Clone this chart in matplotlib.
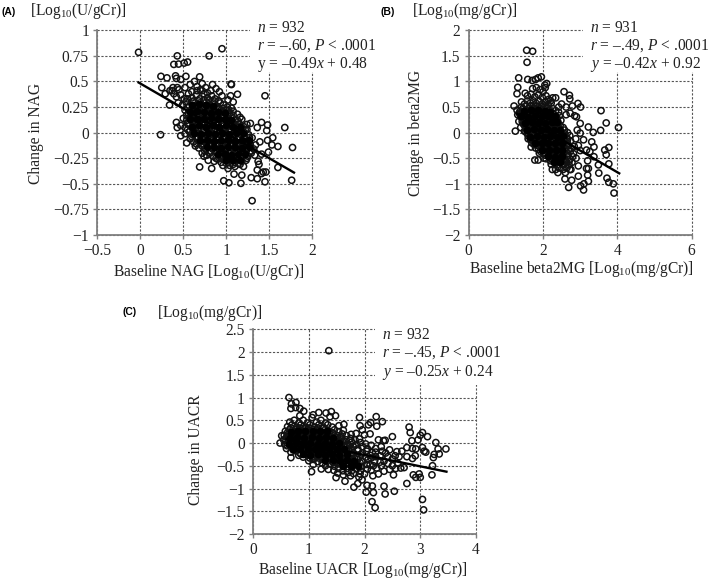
import matplotlib
matplotlib.use("Agg")
import matplotlib.pyplot as plt
from matplotlib.patches import Rectangle

plt.rcParams['font.family'] = ['Liberation Serif', 'DejaVu Serif']
plt.rcParams['mathtext.fontset'] = 'custom'
plt.rcParams['mathtext.rm'] = 'Liberation Serif'
plt.rcParams['mathtext.it'] = 'Liberation Serif:italic'

W, H = 709, 582

# points, the outliers first and then the dense cloud row by row
nag_points = [
    (-.02, .785), (.43, .75), (.80, .75), (.95, .82), (.39, .667), (.445, .67), (.51, .68), (.55, .69),
    (.24, .55), (.31, .535), (.41, .555), (.42, .53), (.53, .55), (.69, .545), (1.055, .475), (1.06, .47),
    (.25, .44), (.345, .41), (1.45, .36), (1.13, .375), (.235, -.02), (1.68, .05), (1.77, -.145), (1.76, -.465),
    (1.30, -.665), (.69, -.335), (.83, -.35), (.97, -.47), (1.03, -.49), (1.17, -.495), (1.18, -.415), (1.09, -.405),
    (1.29, -.44), (1.36, -.45), (1.45, -.48), (1.43, -.385), (1.46, -.385), (1.36, -.365), (1.6, -.34), (1.6, -.135),
    (1.54, -.05), (1.48, -.075), (1.53, -.12), (1.48, .075), (1.47, .02), (1.36, .05), (1.41, .10), (1.49, -.19),
    (1.41, -.21), (.84, .47), (.88, .43), (.92, .40), (.95, .36), (1.02, .32), (1.05, .36), (1.08, .30),
    (.63, .50), (.72, .48), (.47, .52), (.37, .41), (.39, .38), (.34, .27), (.29, .38), (.43, .44),
    (1.37, -.28), (1.33, -.22), (1.38, -.31), (1.41, -.40), (1.34, -.12), (1.39, -.09), (1.28, .09), (1.24, .08),
    (.43, .05), (.42, .10), (.47, -.03), (.54, -.10), (.74, -.23), (.79, -.27), (1.02, -.35), (1.2, -.33),
    (.38, .44), (.45, .42), (.52, .44), (.58, .47), (.66, .45), (.70, .42), (.76, .44), (.82, .41),
    (.42, .35), (.47, .37), (.51, .33), (.56, .38), (.60, .34), (.65, .37), (.69, .33), (.74, .38), (.78, .34), (.83, .36), (.87, .33), (.91, .31),
    (.44, .29), (.49, .27), (.53, .30), (.57, .26), (.61, .30), (.65, .27), (.69, .29), (.73, .26), (.77, .30), (.81, .27), (.85, .29), (.89, .26), (.93, .29), (.97, .27), (1.01, .25), (1.06, .24),
    (.52, .22), (.56, .19), (.60, .23), (.64, .20), (.68, .22), (.72, .19), (.76, .23), (.80, .20), (.84, .22), (.88, .19), (.92, .23), (.96, .20), (1.00, .22), (1.04, .19), (1.08, .21), (1.13, .18), (1.16, .15),
    (.50, .14), (.54, .12), (.58, .15), (.62, .12), (.66, .15), (.70, .12), (.74, .15), (.78, .12), (.82, .15), (.86, .12), (.90, .15), (.94, .12), (.98, .15), (1.02, .12), (1.06, .14), (1.10, .12), (1.14, .11), (1.18, .13),
    (.47, .07), (.52, .05), (.56, .08), (.60, .05), (.64, .08), (.68, .05), (.72, .08), (.76, .05), (.80, .08), (.84, .05), (.88, .08), (.92, .05), (.96, .08), (1.00, .05), (1.04, .08), (1.08, .05), (1.12, .07), (1.16, .04), (1.20, .06), (1.24, .03),
    (.52, -.01), (.57, .01), (.61, -.02), (.65, .01), (.69, -.02), (.73, .01), (.77, -.02), (.81, .01), (.85, -.02), (.89, .01), (.93, -.02), (.97, .01), (1.01, -.02), (1.05, .01), (1.09, -.02), (1.13, .01), (1.17, -.02), (1.21, .00), (1.26, -.02),
    (.58, -.06), (.62, -.09), (.66, -.06), (.70, -.09), (.74, -.06), (.78, -.09), (.82, -.06), (.86, -.09), (.90, -.06), (.94, -.09), (.98, -.06), (1.02, -.09), (1.06, -.06), (1.10, -.09), (1.14, -.06), (1.18, -.09), (1.22, -.06), (1.26, -.09), (1.30, -.05),
    (.64, -.13), (.68, -.15), (.72, -.13), (.76, -.16), (.80, -.13), (.84, -.16), (.88, -.13), (.92, -.16), (.96, -.13), (1.00, -.16), (1.04, -.13), (1.08, -.16), (1.12, -.13), (1.16, -.16), (1.20, -.13), (1.24, -.16), (1.28, -.12), (1.32, -.16),
    (.72, -.20), (.77, -.22), (.81, -.20), (.85, -.23), (.89, -.20), (.93, -.23), (.97, -.20), (1.01, -.23), (1.05, -.20), (1.09, -.23), (1.13, -.20), (1.17, -.23), (1.21, -.20), (1.25, -.23), (1.29, -.20),
    (.86, -.28), (.90, -.26), (.94, -.29), (.98, -.26), (1.02, -.29), (1.06, -.26), (1.10, -.29), (1.14, -.26), (1.18, -.28), (1.23, -.27), (.96, -.32), (1.04, -.32), (1.10, -.33), (1.16, -.31),
    (.60, .40), (.66, .41), (.72, .41), (.78, .39), (.55, .33), (.62, .31), (.68, .31), (.74, .32), (.80, .32), (.86, .31),
    (.55, .245), (.61, .26), (.67, .25), (.73, .23), (.79, .25), (.85, .25), (.91, .24), (.97, .235), (1.03, .22),
    (.54, .17), (.60, .19), (.66, .18), (.72, .16), (.78, .17), (.84, .18), (.90, .17), (.96, .17), (1.02, .16), (1.08, .17),
    (.55, .09), (.61, .10), (.67, .09), (.73, .11), (.79, .10), (.85, .09), (.91, .10), (.97, .09), (1.03, .10), (1.09, .09), (1.15, .08),
    (.55, .03), (.62, .03), (.68, .02), (.74, .03), (.80, .03), (.86, .02), (.92, .03), (.98, .02), (1.04, .03), (1.10, .02), (1.16, .02), (1.22, .03),
    (.60, -.04), (.67, -.04), (.73, -.04), (.79, -.04), (.85, -.05), (.91, -.04), (.97, -.04), (1.03, -.05), (1.09, -.04), (1.15, -.04), (1.21, -.03), (1.27, -.05),
    (.65, -.11), (.71, -.11), (.77, -.11), (.83, -.12), (.89, -.11), (.95, -.11), (1.01, -.12), (1.07, -.11), (1.13, -.11), (1.19, -.11), (1.25, -.12),
    (.75, -.18), (.81, -.18), (.87, -.18), (.93, -.19), (.99, -.18), (1.05, -.18), (1.11, -.18), (1.17, -.19), (1.23, -.18), (1.29, -.18),
    (.88, -.25), (.94, -.25), (1.00, -.25), (1.06, -.24), (1.12, -.25), (1.18, -.25), (1.24, -.25), (1.00, -.30), (1.08, -.31), (1.14, -.30),
]
# heart of the cloud, where the overlapping rings print solid black
nag_dense = [
    (.60, .27), (.68, .28), (.76, .27), (.84, .26),
    (.58, .20), (.66, .21), (.74, .20), (.82, .19), (.90, .20), (.98, .19),
    (.58, .13), (.66, .13), (.74, .13), (.82, .14), (.90, .13), (.98, .13), (1.06, .12),
    (.60, .06), (.68, .07), (.76, .06), (.84, .07), (.92, .06), (1.00, .07), (1.08, .06), (1.16, .06),
    (.63, .00), (.71, -.01), (.79, .00), (.87, -.01), (.95, .00), (1.03, -.01), (1.11, .00), (1.19, .00),
    (.70, -.07), (.78, -.07), (.86, -.08), (.94, -.07), (1.02, -.07), (1.10, -.08), (1.18, -.07), (1.26, -.07),
    (.78, -.14), (.86, -.14), (.94, -.15), (1.02, -.14), (1.10, -.14), (1.18, -.15), (1.26, -.14),
    (.90, -.21), (.98, -.21), (1.06, -.22), (1.14, -.21), (1.22, -.21),
    (1.00, -.27), (1.08, -.27), (1.16, -.27),
]
nag_fit_x = [-.02, 1.787]
nag_fit_y = [.49, -.39]

beta_points = [
    (1.56, 1.61), (1.72, 1.59), (1.57, 1.375), (1.345, 1.07), (1.59, 1.04), (1.71, 1.02), (1.80, 1.04), (1.87, 1.07),
    (1.955, 1.09), (2.1, .96), (2.05, .93), (1.32, .885), (1.30, .76), (1.52, .77), (1.22, .52), (1.255, .03),
    (2.565, .80), (2.71, .73), (2.72, .66), (2.5, .56), (2.79, .52), (2.94, .57), (3.01, .5), (2.34, .68),
    (2.26, .68), (3.56, .43), (3.70, .19), (4.03, .10), (3.55, .045), (3.35, .005), (3.22, .11), (3.77, -.29),
    (3.66, -.34), (3.70, -.43), (3.77, -.61), (3.49, -.63), (3.5, -.79), (3.72, -.89), (3.77, -.97), (3.89, -1.0),
    (3.91, -1.18), (2.69, -1.07), (2.77, -.93), (2.59, -.905), (3.01, -1.04), (3.09, -1.12), (3.10, -1.0), (3.22, -.95),
    (3.20, -.83), (3.17, -.70), (3.22, -.70), (2.95, -.85), (1.78, -.535), (1.87, -.535), (3.09, -.14), (3.31, -.18),
    (3.37, -.28), (3.26, -.37), (3.17, -.34), (3.37, -.47), (2.89, -.5), (3.0, -.01), (3.0, .18), (2.9, .31),
    (2.73, .38), (2.85, .33), (2.62, .35), (2.62, .50), (2.42, .50), (2.2, .62), (2.06, .88), (1.42, .60), (1.47, .17), (1.35, .22),
    (1.40, .10), (1.5, .03), (1.6, -.12), (1.68, -.28), (1.9, -.40), (2.02, -.5), (2.25, -.72), (2.4, -.78), (2.6, -.78), (2.75, -.72),
    (2.95, -.65), (3.0, -.35), (2.95, -.25), (3.2, -.55), (2.88, -.12), (2.92, .05),
    (1.72, .86), (1.82, .88), (1.92, .84), (2.0, .80), (1.58, .72), (1.68, .75), (1.78, .70), (1.88, .74), (1.98, .69), (2.08, .72), (2.15, .65),
    (1.42, .50), (1.50, .56), (1.58, .62), (1.66, .58), (1.74, .62), (1.82, .57), (1.90, .61), (1.98, .56), (2.06, .60), (2.14, .55), (2.22, .58),
    (1.30, .44), (1.38, .42), (1.46, .47), (1.54, .43), (1.62, .47), (1.70, .43), (1.78, .47), (1.86, .43), (1.94, .47), (2.02, .43), (2.10, .47), (2.18, .43), (2.26, .47), (2.34, .43), (2.42, .40),
    (1.32, .35), (1.40, .31), (1.48, .36), (1.56, .31), (1.64, .36), (1.72, .31), (1.80, .36), (1.88, .31), (1.96, .36), (2.04, .31), (2.12, .36), (2.20, .31), (2.28, .36), (2.36, .31), (2.44, .33),
    (1.44, .22), (1.52, .26), (1.60, .21), (1.68, .26), (1.76, .21), (1.84, .26), (1.92, .21), (2.00, .26), (2.08, .21), (2.16, .26), (2.24, .21), (2.32, .26), (2.40, .21), (2.48, .24),
    (1.50, .14), (1.58, .10), (1.66, .15), (1.74, .10), (1.82, .15), (1.90, .10), (1.98, .15), (2.06, .10), (2.14, .15), (2.22, .10), (2.30, .15), (2.38, .10), (2.46, .14), (2.54, .10),
    (1.54, .01), (1.62, .05), (1.70, .00), (1.78, .05), (1.86, .00), (1.94, .05), (2.02, .00), (2.10, .05), (2.18, .00), (2.26, .05), (2.34, .00), (2.42, .05), (2.50, .00), (2.58, .05), (2.66, .00),
    (1.60, -.06), (1.68, -.10), (1.76, -.05), (1.84, -.10), (1.92, -.05), (2.00, -.10), (2.08, -.05), (2.16, -.10), (2.24, -.05), (2.32, -.10), (2.40, -.05), (2.48, -.10), (2.56, -.05), (2.64, -.10), (2.72, -.06),
    (1.70, -.20), (1.78, -.16), (1.86, -.21), (1.94, -.16), (2.02, -.21), (2.10, -.16), (2.18, -.21), (2.26, -.16), (2.34, -.21), (2.42, -.16), (2.50, -.21), (2.58, -.16), (2.66, -.21), (2.74, -.16),
    (1.80, -.30), (1.88, -.26), (1.96, -.31), (2.04, -.26), (2.12, -.31), (2.20, -.26), (2.28, -.31), (2.36, -.26), (2.44, -.31), (2.52, -.26), (2.60, -.31), (2.68, -.26), (2.76, -.31), (2.84, -.27),
    (1.94, -.37), (2.02, -.41), (2.10, -.36), (2.18, -.41), (2.26, -.36), (2.34, -.41), (2.42, -.36), (2.50, -.41), (2.58, -.36), (2.66, -.41), (2.74, -.36), (2.82, -.41),
    (2.08, -.51), (2.16, -.47), (2.24, -.52), (2.32, -.47), (2.40, -.52), (2.48, -.47), (2.56, -.52), (2.64, -.47), (2.72, -.52), (2.80, -.47),
    (2.22, -.62), (2.30, -.58), (2.38, -.63), (2.46, -.58), (2.54, -.63), (2.62, -.58), (2.70, -.63), (2.78, -.58), (2.34, -.72), (2.44, -.69), (2.54, -.72), (2.64, -.69), (2.72, -.72),
    (1.55, .52), (1.65, .52), (1.75, .54), (1.85, .52), (1.95, .52), (2.05, .52), (1.36, .38), (1.46, .40), (1.56, .38), (1.66, .40), (1.76, .40), (1.86, .38), (1.96, .40), (2.06, .38), (2.16, .40), (2.26, .38),
    (1.44, .28), (1.54, .28), (1.64, .30), (1.74, .26), (1.84, .29), (1.94, .28), (2.04, .26), (2.14, .29), (2.24, .28),
    (1.48, .18), (1.58, .16), (1.68, .19), (1.78, .17), (1.88, .18), (1.98, .19), (2.08, .17), (2.18, .18), (2.28, .18), (2.38, .16),
    (1.54, .08), (1.64, .07), (1.74, .07), (1.84, .08), (1.94, .07), (2.04, .08), (2.14, .07), (2.24, .08), (2.34, .07), (2.44, .08),
    (1.58, -.02), (1.68, -.03), (1.78, -.02), (1.88, -.03), (1.98, -.02), (2.08, -.03), (2.18, -.02), (2.28, -.03), (2.38, -.02), (2.48, -.03), (2.58, -.02),
    (1.66, -.13), (1.76, -.12), (1.86, -.13), (1.96, -.12), (2.06, -.13), (2.16, -.12), (2.26, -.13), (2.36, -.12), (2.46, -.13), (2.56, -.12), (2.66, -.13),
    (1.76, -.23), (1.86, -.24), (1.96, -.23), (2.06, -.24), (2.16, -.23), (2.26, -.24), (2.36, -.23), (2.46, -.24), (2.56, -.23), (2.66, -.24),
    (1.88, -.33), (1.98, -.34), (2.08, -.33), (2.18, -.34), (2.28, -.33), (2.38, -.34), (2.48, -.33), (2.58, -.34), (2.68, -.33),
    (2.06, -.44), (2.16, -.44), (2.26, -.44), (2.36, -.45), (2.46, -.44), (2.56, -.44), (2.66, -.45),
    (2.20, -.55), (2.30, -.54), (2.40, -.55), (2.50, -.54), (2.60, -.55), (2.70, -.56),
]
beta_dense = [
    (1.50, .42), (1.68, .44), (1.86, .45), (2.04, .42), (2.20, .40),
    (1.42, .33), (1.60, .30), (1.78, .32), (1.96, .33), (2.14, .32), (2.32, .32),
    (1.52, .19), (1.70, .21), (1.88, .20), (2.06, .19), (2.24, .20), (2.38, .20),
    (1.58, .06), (1.76, .07), (1.94, .06), (2.12, .07), (2.30, .06), (2.46, .06),
    (1.66, -.08), (1.84, -.07), (2.02, -.08), (2.20, -.07), (2.38, -.08), (2.54, -.07),
    (1.78, -.21), (1.96, -.20), (2.14, -.21), (2.32, -.20), (2.50, -.21),
    (1.98, -.33), (2.16, -.34), (2.34, -.33), (2.52, -.34),
    (2.14, -.46), (2.32, -.47), (2.50, -.46),
    (2.30, -.58), (2.46, -.58),
]
beta_fit_x = [1.3, 4.05]
beta_fit_y = [.37, -.795]

uacr_points = [
    (1.36, 2.03), (.645, 1.0), (.77, .89), (.69, .86), (.84, .76), (.91, .70), (.68, .76), (.765, .78), (.84, .60),
    (1.18, .67), (1.31, .66), (1.405, .69), (1.38, .58), (1.48, .6), (1.91, .56), (2.21, .58), (2.32, .47), (2.11, .45),
    (2.22, .37), (1.92, .38), (1.96, .29), (2.07, .4), (2.80, .35), (2.82, .23), (2.85, .05), (3.04, .23), (3.0, .17),
    (3.13, .14), (3.28, .01), (2.96, .07), (3.04, -.10), (3.07, -.18), (3.10, -.2), (3.46, -.13), (3.32, -.13), (3.34, -.24),
    (3.25, -.25), (3.235, -.32), (3.22, -.5), (3.21, -.70), (2.92, -.13), (2.86, -.12), (2.76, -.1), (2.67, -.18), (2.58, -.19),
    (2.5, .14), (2.34, .05), (2.25, .07), (2.37, .06), (2.91, -.28), (2.86, -.34), (2.76, -.3), (2.71, -.54), (2.56, -.56), (2.52, -.7),
    (2.875, -.70), (2.92, -.755), (2.98, -.68), (3.0, -.755), (2.76, -.89), (2.35, -.95), (2.37, -1.12), (2.535, -1.06),
    (1.81, -.97), (1.88, -.89), (1.955, -.81), (2.045, -.93), (2.14, -.945), (2.03, -1.08), (2.16, -1.09), (2.135, -1.29),
    (2.19, -1.42), (3.04, -1.24), (3.06, -1.47), (.485, 0), (.515, .16), (.68, -.32), (1.05, -.63), (1.65, -.84),
    (1.49, -.76), (1.225, -.57), (2.0, .18), (2.1, .2), (1.85, .21), (2.2, -.12), (2.3, -.08), (2.42, -.3), (2.5, -.35), (2.6, -.45),
    (2.45, -.58), (2.35, -.62), (2.25, -.68), (2.15, -.72), (2.0, -.68), (1.9, -.75), (1.75, -.72), (2.45, -.15), (2.55, -.28),
    (.66, .46), (.74, .50), (.82, .44), (.90, .50), (.98, .44), (1.06, .56), (1.14, .46), (1.22, .50), (1.30, .44), (1.08, .62),
    (.62, .36), (.70, .40), (.78, .35), (.86, .40), (.94, .35), (1.02, .40), (1.10, .35), (1.18, .40), (1.26, .35), (1.34, .40), (1.42, .35), (1.54, .38), (1.63, .41),
    (.58, .26), (.66, .30), (.74, .25), (.82, .30), (.90, .25), (.98, .30), (1.06, .25), (1.14, .30), (1.22, .25), (1.30, .30), (1.38, .25), (1.46, .29), (1.54, .25), (1.62, .28),
    (.56, .17), (.64, .20), (.72, .16), (.80, .20), (.88, .16), (.96, .20), (1.04, .16), (1.12, .20), (1.20, .16), (1.28, .20), (1.36, .16), (1.44, .20), (1.52, .16), (1.60, .20), (1.68, .16), (1.76, .19),
    (.55, .07), (.63, .11), (.71, .07), (.79, .11), (.87, .07), (.95, .11), (1.03, .07), (1.11, .11), (1.19, .07), (1.27, .11), (1.35, .07), (1.43, .11), (1.51, .07), (1.59, .11), (1.67, .07), (1.75, .10), (1.83, .07), (1.91, .09),
    (.57, -.03), (.65, .02), (.73, -.03), (.81, .02), (.89, -.03), (.97, .02), (1.05, -.03), (1.13, .02), (1.21, -.03), (1.29, .02), (1.37, -.03), (1.45, .02), (1.53, -.03), (1.61, .02), (1.69, -.03), (1.77, .02), (1.85, -.03), (1.93, .01), (2.02, -.02),
    (.60, -.12), (.68, -.08), (.76, -.13), (.84, -.08), (.92, -.13), (1.00, -.08), (1.08, -.13), (1.16, -.08), (1.24, -.13), (1.32, -.08), (1.40, -.13), (1.48, -.08), (1.56, -.13), (1.64, -.08), (1.72, -.13), (1.80, -.08), (1.88, -.13), (1.96, -.08), (2.05, -.12),
    (.68, -.20), (.76, -.17), (.84, -.22), (.92, -.17), (1.00, -.22), (1.08, -.17), (1.16, -.22), (1.24, -.17), (1.32, -.22), (1.40, -.17), (1.48, -.22), (1.56, -.17), (1.64, -.22), (1.72, -.17), (1.80, -.22), (1.88, -.17), (1.96, -.22), (2.04, -.18), (2.14, -.21),
    (.82, -.27), (.90, -.31), (.98, -.26), (1.06, -.31), (1.14, -.26), (1.22, -.31), (1.30, -.26), (1.38, -.31), (1.46, -.26), (1.54, -.31), (1.62, -.26), (1.70, -.31), (1.78, -.26), (1.86, -.31), (1.94, -.26), (2.02, -.31), (2.10, -.27), (2.20, -.30),
    (1.00, -.39), (1.08, -.36), (1.16, -.41), (1.24, -.36), (1.32, -.41), (1.40, -.36), (1.48, -.41), (1.56, -.36), (1.64, -.41), (1.72, -.36), (1.80, -.41), (1.88, -.36), (1.96, -.41), (2.06, -.37), (2.18, -.40),
    (1.08, -.47), (1.30, -.50), (1.38, -.46), (1.46, -.51), (1.54, -.46), (1.62, -.51), (1.70, -.46), (1.78, -.51), (1.86, -.46), (1.94, -.51), (2.04, -.47), (2.16, -.50),
    (1.35, -.58), (1.45, -.60), (1.53, -.56), (1.61, -.61), (1.69, -.56), (1.77, -.61), (1.85, -.56), (1.93, -.61), (2.05, -.57), (1.52, -.66), (1.62, -.70), (1.70, -.65), (1.80, -.67), (1.92, -.68),
    (.68, .33), (.76, .30), (.84, .33), (.92, .31), (1.00, .33), (1.08, .30), (1.16, .33), (1.24, .32),
    (.62, .23), (.70, .23), (.78, .22), (.86, .23), (.94, .22), (1.02, .23), (1.10, .22), (1.18, .23), (1.26, .22), (1.34, .23), (1.42, .22),
    (.60, .13), (.68, .13), (.76, .14), (.84, .13), (.92, .14), (1.00, .13), (1.08, .14), (1.16, .13), (1.24, .14), (1.32, .13), (1.40, .14), (1.48, .13), (1.56, .13),
    (.59, .05), (.67, .04), (.75, .05), (.83, .04), (.91, .05), (.99, .04), (1.07, .05), (1.15, .04), (1.23, .05), (1.31, .04), (1.39, .05), (1.47, .04), (1.55, .05), (1.63, .04),
    (.61, -.06), (.69, -.05), (.77, -.06), (.85, -.05), (.93, -.06), (1.01, -.05), (1.09, -.06), (1.17, -.05), (1.25, -.06), (1.33, -.05), (1.41, -.06), (1.49, -.05), (1.57, -.06), (1.65, -.05), (1.73, -.06),
    (.72, -.15), (.80, -.15), (.88, -.14), (.96, -.15), (1.04, -.14), (1.12, -.15), (1.20, -.14), (1.28, -.15), (1.36, -.14), (1.44, -.15), (1.52, -.14), (1.60, -.15), (1.68, -.14), (1.76, -.15),
    (.86, -.24), (.94, -.24), (1.02, -.24), (1.10, -.25), (1.18, -.24), (1.26, -.24), (1.34, -.25), (1.42, -.24), (1.50, -.25), (1.58, -.24), (1.66, -.24), (1.74, -.25),
    (1.02, -.33), (1.10, -.34), (1.18, -.33), (1.26, -.34), (1.34, -.33), (1.42, -.34), (1.50, -.33), (1.58, -.34), (1.66, -.33), (1.74, -.34), (1.82, -.33),
    (1.24, -.44), (1.44, -.43), (1.52, -.44), (1.60, -.43), (1.68, -.44), (1.76, -.43), (1.84, -.44), (1.92, -.43),
    (2.12, -.05), (2.20, -.20), (2.28, -.28), (2.35, -.40), (2.42, -.45), (2.30, -.50), (2.22, -.55), (2.12, -.60), (2.32, -.18), (2.50, -.50),
    (2.12, -.33), (2.10, -.48), (2.28, -.42), (2.62, -.30), (2.65, -.55), (2.38, -.22),
]
uacr_dense = [
    (.68, .25), (.81, .26), (.94, .27), (1.07, .26), (1.20, .27), (1.33, .26),
    (.66, .12), (.79, .13), (.92, .12), (1.05, .13), (1.18, .12), (1.31, .13), (1.44, .12),
    (.64, -.02), (.77, -.01), (.90, -.02), (1.03, -.01), (1.16, -.02), (1.29, -.01), (1.42, -.02), (1.55, -.01),
    (.72, -.13), (.85, -.14), (.98, -.13), (1.11, -.14), (1.24, -.13), (1.37, -.14), (1.50, -.13), (1.63, -.14),
    (.90, -.25), (1.03, -.26), (1.16, -.25), (1.29, -.26), (1.42, -.25), (1.55, -.26), (1.68, -.25),
    (1.30, -.38), (1.43, -.38), (1.56, -.39), (1.69, -.38), (1.82, -.39),
    (1.62, -.50), (1.75, -.50), (1.88, -.50),
]
uacr_fit_x = [.6, 3.47]
uacr_fit_y = [.09, -.63]

nag_xticks = [-.5, 0, .5, 1, 1.5, 2]
nag_xlabels = ['−0.5', '0', '0.5', '1', '1.5', '2']
nag_yticks = [-1, -.75, -.5, -.25, 0, .25, .5, .75, 1]
nag_ylabels = ['−1', '−0.75', '−0.5', '−0.25', '0', '0.25', '0.5', '0.75', '1']
beta_xticks = [0, 2, 4, 6]
beta_yticks = [-2, -1.5, -1, -.5, 0, .5, 1, 1.5, 2]
beta_ylabels = ['−2', '−1.5', '−1', '−0.5', '0', '0.5', '1', '1.5', '2']
uacr_xticks = [0, 1, 2, 3, 4]
uacr_yticks = [-2, -1.5, -1, -.5, 0, .5, 1, 1.5, 2, 2.5]
uacr_ylabels = ['−2', '−1.5', '−1', '−0.5', '0', '0.5', '1', '1.5', '2', '2.5']

FS = 11.2
fig = plt.figure(figsize=(W / 100, H / 100), dpi=100)


def put(px, py, s, **kw):
    kw.setdefault('fontsize', FS)
    kw.setdefault('va', 'center')
    kw.setdefault('color', '#222222')
    return fig.text(px / W, 1 - py / H, s, zorder=6, **kw)


def panel(box, points, dense, fit_x, fit_y, xlim, ylim, xticks, xlabels, yticks, ylabels):
    left, right, top, bottom = box
    ax = fig.add_axes([left / W, 1 - bottom / H, (right - left) / W, (bottom - top) / H])
    ax.set_xlim(xlim)
    ax.set_ylim(ylim)
    ax.set_xticks(xticks, xlabels)
    ax.set_yticks(yticks, ylabels)
    ax.tick_params(labelsize=FS, length=3, width=1, color='#808080', labelcolor='#222222', pad=3)
    ax.grid(True, color='#555555', linestyle=(0, (2, 1.5)), linewidth=0.8, clip_on=False)
    ax.set_axisbelow(True)
    for side in ['top', 'right']:
        ax.spines[side].set_visible(False)
    for side in ['left', 'bottom']:
        ax.spines[side].set_color('#808080')
        ax.spines[side].set_linewidth(1.3)
    ax.scatter([p[0] for p in points], [p[1] for p in points], s=20, facecolors='none',
               edgecolors='#111111', linewidths=1.1, clip_on=False, zorder=3)
    ax.scatter([p[0] for p in dense], [p[1] for p in dense], s=20, facecolors='black',
               edgecolors='black', linewidths=1.1, zorder=3)
    ax.plot(fit_x, fit_y, color='black', linewidth=1.7, zorder=4)
    return ax


def cover(x0, y0, x1, y1):
    # the statistics sit on a white block that hides the grid behind them
    fig.add_artist(Rectangle((x0 / W, 1 - y1 / H), (x1 - x0) / W, (y1 - y0) / H, facecolor='white',
                             edgecolor='none', transform=fig.transFigure, zorder=5))


# (A)
panel((97.3, 312.3, 30.3, 235), nag_points, nag_dense, nag_fit_x, nag_fit_y, (-.5, 2), (-1, 1),
      nag_xticks, nag_xlabels, nag_yticks, nag_ylabels)
cover(250, 18, 345, 72)
put(2, 12, '(A)', family='Liberation Sans', fontweight='bold', fontsize=7.5, color='black')
put(30, 11, r'[Log$_{10}$(U/gCr)]')
put(36, 133, 'Change in NAG', rotation=90, ha='center')
put(209, 272, r'Baseline NAG [Log$_{10}$(U/gCr)]', ha='center')
put(257, 28, r'$n$ = 932')
put(257, 46, r'$r$ = –.60, $P$ < .0001')
put(257, 65, r'y = –0.49$x$ + 0.48')

# (B)
panel((468.7, 691.7, 30.3, 235), beta_points, beta_dense, beta_fit_x, beta_fit_y, (0, 6), (-2, 2),
      beta_xticks, [str(v) for v in beta_xticks], beta_yticks, beta_ylabels)
cover(583, 18, 709, 72)
put(380, 12, '(B)', family='Liberation Sans', fontweight='bold', fontsize=7.5, color='black')
put(412, 11, r'[Log$_{10}$(mg/gCr)]')
put(416, 133, 'Change in beta2MG', rotation=90, ha='center')
put(581, 269, r'Baseline beta2MG [Log$_{10}$(mg/gCr)]', ha='center')
put(590, 28, r'$n$ = 931')
put(590, 46, r'$r$ = –.49, $P$ < .0001')
put(590, 65, r'$y$ = –0.42$x$ + 0.92')

# (C)
panel((253, 476, 329.3, 534), uacr_points, uacr_dense, uacr_fit_x, uacr_fit_y, (0, 4), (-2, 2.5),
      uacr_xticks, [str(v) for v in uacr_xticks], uacr_yticks, uacr_ylabels)
cover(375, 320, 505, 385)
put(122, 312, '(C)', family='Liberation Sans', fontweight='bold', fontsize=7.5, color='black')
put(157, 313, r'[Log$_{10}$(mg/gCr)]')
put(196, 450, 'Change in UACR', rotation=90, ha='center')
put(363, 570, r'Baseline UACR [Log$_{10}$(mg/gCr)]', ha='center')
put(382, 335, r'$n$ = 932')
put(382, 353, r'$r$ = –.45, $P$ < .0001')
put(382, 372, r'$y$ = –0.25$x$ + 0.24')

fig.savefig('out.png', dpi=100)
